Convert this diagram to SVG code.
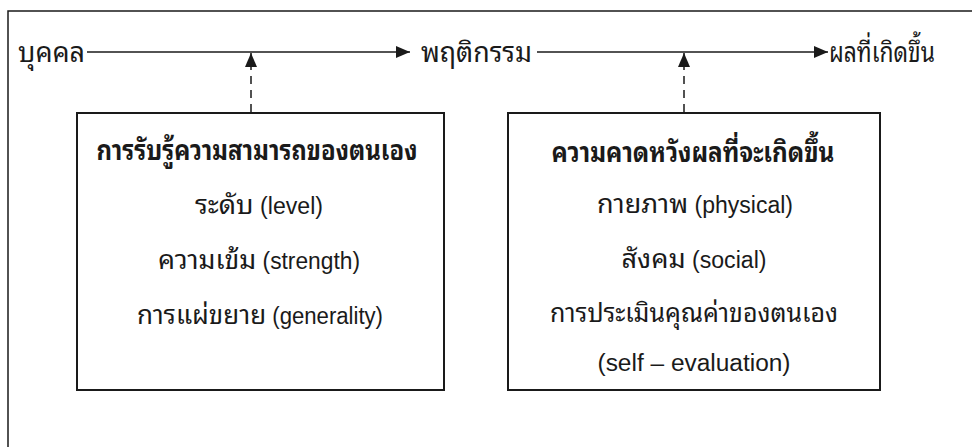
<svg xmlns="http://www.w3.org/2000/svg" width="979" height="447" viewBox="0 0 979 447">
<defs>
<style>
text{font-family:"Liberation Sans","Noto Sans Thai Looped","Noto Sans Thai","Noto Sans",sans-serif;fill:#1a1a1a;text-anchor:middle;font-size:23px}
.th{font-size:27px}
.b{font-weight:bold}
.top{text-anchor:start;font-size:28px}
.ln{stroke:#1a1a1a;stroke-width:1.5;fill:none}
.box{stroke:#1a1a1a;stroke-width:2;fill:#fff}
.dash{stroke:#1a1a1a;stroke-width:1.5;stroke-dasharray:8 6;fill:none}
</style>
<marker id="ah" viewBox="0 0 14 12" refX="14" refY="6" markerWidth="14" markerHeight="12" markerUnits="userSpaceOnUse" orient="auto">
<path d="M0,0 L14,6 L0,12 Z" fill="#1a1a1a"/>
</marker>
</defs>
<rect width="979" height="447" fill="#fff"/>
<g id="frame"><path class="ln" d="M8,447 V11 H972"/></g>
<g id="connectors">
<line class="ln" x1="87" y1="52" x2="410" y2="52" marker-end="url(#ah)"/>
<line class="ln" x1="537" y1="52" x2="828" y2="52" marker-end="url(#ah)"/>
<line class="dash" x1="251" y1="112" x2="251" y2="53" marker-end="url(#ah)"/>
<line class="dash" x1="684" y1="112" x2="684" y2="53" marker-end="url(#ah)"/>
</g>
<g id="n-person"><text class="top" x="18" y="62" textLength="67" lengthAdjust="spacingAndGlyphs">บุคคล</text></g>
<g id="n-behavior"><text class="top" x="421" y="62" textLength="111" lengthAdjust="spacingAndGlyphs">พฤติกรรม</text></g>
<g id="n-outcome"><text class="top" x="829" y="62" textLength="106" lengthAdjust="spacingAndGlyphs">ผลที่เกิดขึ้น</text></g>
<g id="n-efficacy">
<rect class="box" x="77" y="113" width="367" height="277"/>
<text class="b th" x="257" y="160" textLength="321" lengthAdjust="spacingAndGlyphs">การรับรู้ความสามารถของตนเอง</text>
<text x="259" y="214" textLength="128" lengthAdjust="spacingAndGlyphs"><tspan class="th">ระดับ</tspan> (level)</text>
<text x="259" y="269" textLength="202" lengthAdjust="spacingAndGlyphs"><tspan class="th">ความเข้ม</tspan> (strength)</text>
<text x="260" y="324" textLength="246" lengthAdjust="spacingAndGlyphs"><tspan class="th">การแผ่ขยาย</tspan> (generality)</text>
</g>
<g id="n-expectation">
<rect class="box" x="508" y="113" width="372" height="277"/>
<text class="b th" x="693" y="162" textLength="283" lengthAdjust="spacingAndGlyphs">ความคาดหวังผลที่จะเกิดขึ้น</text>
<text x="695" y="213" textLength="196" lengthAdjust="spacingAndGlyphs"><tspan class="th">กายภาพ</tspan> (physical)</text>
<text x="694" y="268" textLength="145" lengthAdjust="spacingAndGlyphs"><tspan class="th">สังคม</tspan> (social)</text>
<text class="th" x="694" y="322" textLength="288" lengthAdjust="spacingAndGlyphs">การประเมินคุณค่าของตนเอง</text>
<text x="694" y="371" textLength="193" lengthAdjust="spacingAndGlyphs">(self – evaluation)</text>
</g>
</svg>
